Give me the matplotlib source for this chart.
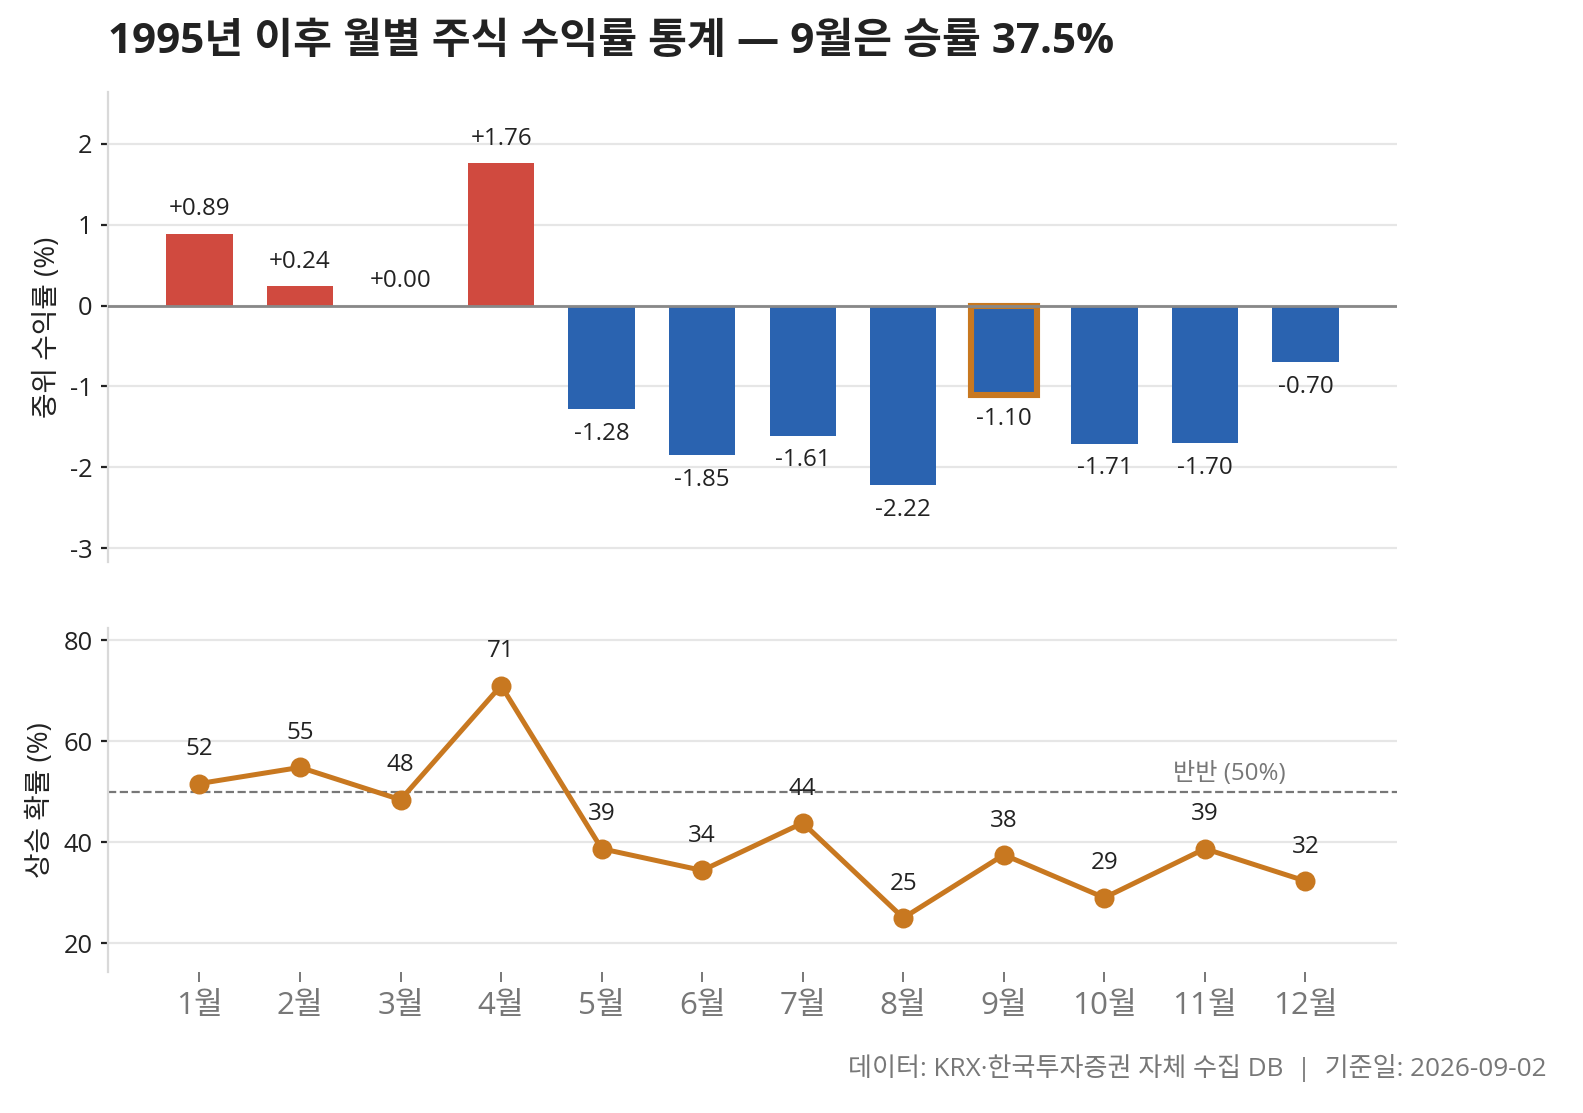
import matplotlib
matplotlib.use("Agg")
import matplotlib.pyplot as plt

plt.rcParams['font.family'] = ['Open Sans', 'Noto Sans CJK KR', 'DejaVu Sans']
plt.rcParams['axes.unicode_minus'] = False

# data
months = ['1월', '2월', '3월', '4월', '5월', '6월', '7월', '8월', '9월', '10월', '11월', '12월']
median_ret = [0.89, 0.24, 0.00, 1.76, -1.28, -1.85, -1.61, -2.22, -1.10, -1.71, -1.70, -0.70]
up_prob = [51.6, 54.8, 48.4, 71.0, 38.7, 34.4, 43.8, 25.0, 37.5, 29.0, 38.7, 32.3]
highlight = '9월'

RED = '#d04a3f'
BLUE = '#2a63b0'
ORANGE = '#c87820'
GRID = '#e6e6e6'

fig = plt.figure(figsize=(7.915, 5.565), dpi=200)
ax1 = fig.add_axes([0.0682, 0.4951, 0.8143, 0.4222])
ax2 = fig.add_axes([0.0682, 0.1267, 0.8143, 0.3091], sharex=ax1)

x = list(range(len(months)))

# 위: 중위 수익률 막대
colors = [RED if v >= 0 else BLUE for v in median_ret]
bars = ax1.bar(x, median_ret, width=0.66, color=colors, zorder=2)
hi = months.index(highlight)
bars[hi].set_edgecolor(ORANGE)
bars[hi].set_linewidth(2.2)
ax1.axhline(0, color='#888888', lw=1.0, zorder=3)

for i, v in enumerate(median_ret):
    if v >= 0:
        ax1.annotate(f'+{v:.2f}', (i, v), xytext=(0, 4.5), textcoords='offset points',
                     ha='center', va='bottom', fontsize=8.7, color='#222222')
    else:
        ax1.annotate(f'{v:.2f}', (i, v), xytext=(0, -4.5), textcoords='offset points',
                     ha='center', va='top', fontsize=8.7, color='#222222')

ax1.set_ylim(-3.17, 2.64)
ax1.set_yticks([-3, -2, -1, 0, 1, 2])
ax1.set_ylabel('중위 수익률 (%)', fontsize=10, color='#222222', labelpad=3)

# 아래: 상승 확률
ax2.plot(x, up_prob, color=ORANGE, lw=1.8, marker='o', markersize=6.2, zorder=3)
ax2.axhline(50, color='#777777', lw=0.8, ls='--', zorder=2)
ax2.text(10.8, 51.2, '반반 (50%)', ha='right', va='bottom', fontsize=8.7, color='#777777')
for i, v in enumerate(up_prob):
    ax2.annotate(f'{v:.0f}', (i, v), xytext=(0, 8), textcoords='offset points',
                 ha='center', va='bottom', fontsize=8.7, color='#222222')
ax2.set_ylim(14.3, 82.4)
ax2.set_yticks([20, 40, 60, 80])
ax2.set_ylabel('상승 확률 (%)', fontsize=10, color='#222222', labelpad=3)

for ax in (ax1, ax2):
    ax.set_axisbelow(True)
    ax.grid(axis='y', color=GRID, lw=0.8)
    for s in ('top', 'right', 'bottom'):
        ax.spines[s].set_visible(False)
    ax.spines['left'].set_color('#d9d9d9')
    ax.tick_params(axis='y', labelsize=9.2, colors='#222222', length=2.5, width=0.8, pad=3)

ax1.tick_params(axis='x', bottom=False, labelbottom=False)
ax2.set_xticks(x)
ax2.set_xticklabels(months)
ax2.tick_params(axis='x', labelsize=11.3, colors='#777777', length=3.5, width=0.7, pad=3.5)
ax2.set_xlim(-0.91, 11.91)

fig.text(0.0682, 0.952, '1995년 이후 월별 주식 수익률 통계 — 9월은 승률 37.5%',
         fontsize=15.2, fontweight='bold', color='#222222', ha='left', va='baseline')
fig.text(0.977, 0.0404, '데이터: KRX·한국투자증권 자체 수집 DB  |  기준일: 2026-09-02',
         fontsize=9.4, color='#777777', ha='right', va='center')

fig.savefig('out.png', dpi=200)
